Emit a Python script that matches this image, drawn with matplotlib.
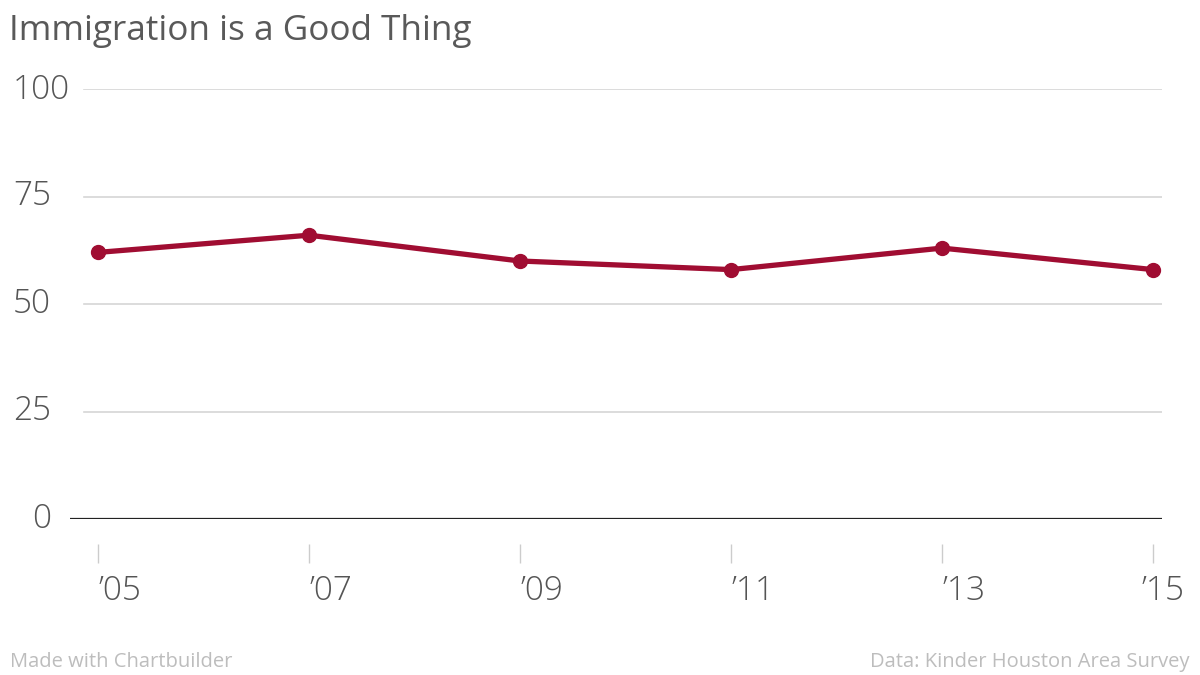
import matplotlib
matplotlib.use("Agg")
import matplotlib.pyplot as plt
import matplotlib.transforms as mtransforms

plt.rcParams['font.family'] = ['Open Sans', 'DejaVu Sans']

years = [2005, 2007, 2009, 2011, 2013, 2015]
year_labels = ["\u201905", "\u201907", "\u201909", "\u201911", "\u201913", "\u201915"]
values = [62, 66, 60, 58, 63, 58]
yticks = [0, 25, 50, 75, 100]

W, H = 1200, 675
fig = plt.figure(figsize=(12, 6.75), dpi=100)
ax = fig.add_axes([70 / W, 1 - 519 / H, (1162 - 70) / W, (519 - 89) / H])
ax.set_xlim(2005 - 28 / 105.5, 2015 + 9 / 105.5)
ax.set_ylim(0, 100)

# gridlines start a bit right of the axes edge
for y in yticks[1:]:
    ax.axhline(y, xmin=14 / 1092, xmax=1, color='#d6d6d6', lw=1.2, zorder=1)
ax.axhline(0, color='#222222', lw=1.6, zorder=2)

ax.plot(years, values, color='#a00d32', lw=3.8, marker='o', ms=10,
        solid_capstyle='round', zorder=3)

for s in ax.spines.values():
    s.set_visible(False)
ax.set_yticks([])

# y labels
for y in yticks:
    if y == 100:
        ax.text(13 / W, 1 - (89 + 1) / H, str(y), transform=fig.transFigure,
                ha='left', va='center', fontsize=24, color='#555555', fontweight='light')
    else:
        yfig = ax.transData.transform((0, y))[1] / fig.dpi / 6.75
        ax.text(51 / W, yfig, str(y), transform=fig.transFigure,
                ha='right', va='center', fontsize=24, color='#555555', fontweight='light')

# x ticks: short gray marks below the axis
ax.spines['bottom'].set_position(('outward', 18))
ax.set_xticks(years)
ax.set_xticklabels([])
ax.tick_params(axis='x', length=14, width=1, color='#cccccc', direction='out')
for i, (x, lab) in enumerate(zip(years, year_labels)):
    dx = 1 if i < len(years) - 1 else -11
    tr = mtransforms.offset_copy(ax.get_xaxis_transform(), fig=fig, x=dx, y=0, units='dots')
    ax.text(x, -0.167, lab, transform=tr, ha='left', va='center',
            fontsize=24, color='#555555', fontweight='light')

fig.text(9 / W, 1 - 31 / H, "Immigration is a Good Thing", ha='left', va='center',
         fontsize=25.3, color='#595959')
fig.text(10 / W, 1 - 662 / H, "Made with Chartbuilder", ha='left', va='center',
         fontsize=14.5, color='#bdbdbd')
fig.text(1190 / W, 1 - 662 / H, "Data: Kinder Houston Area Survey", ha='right', va='center',
         fontsize=14.5, color='#bdbdbd')

fig.savefig("out.png", dpi=100)
